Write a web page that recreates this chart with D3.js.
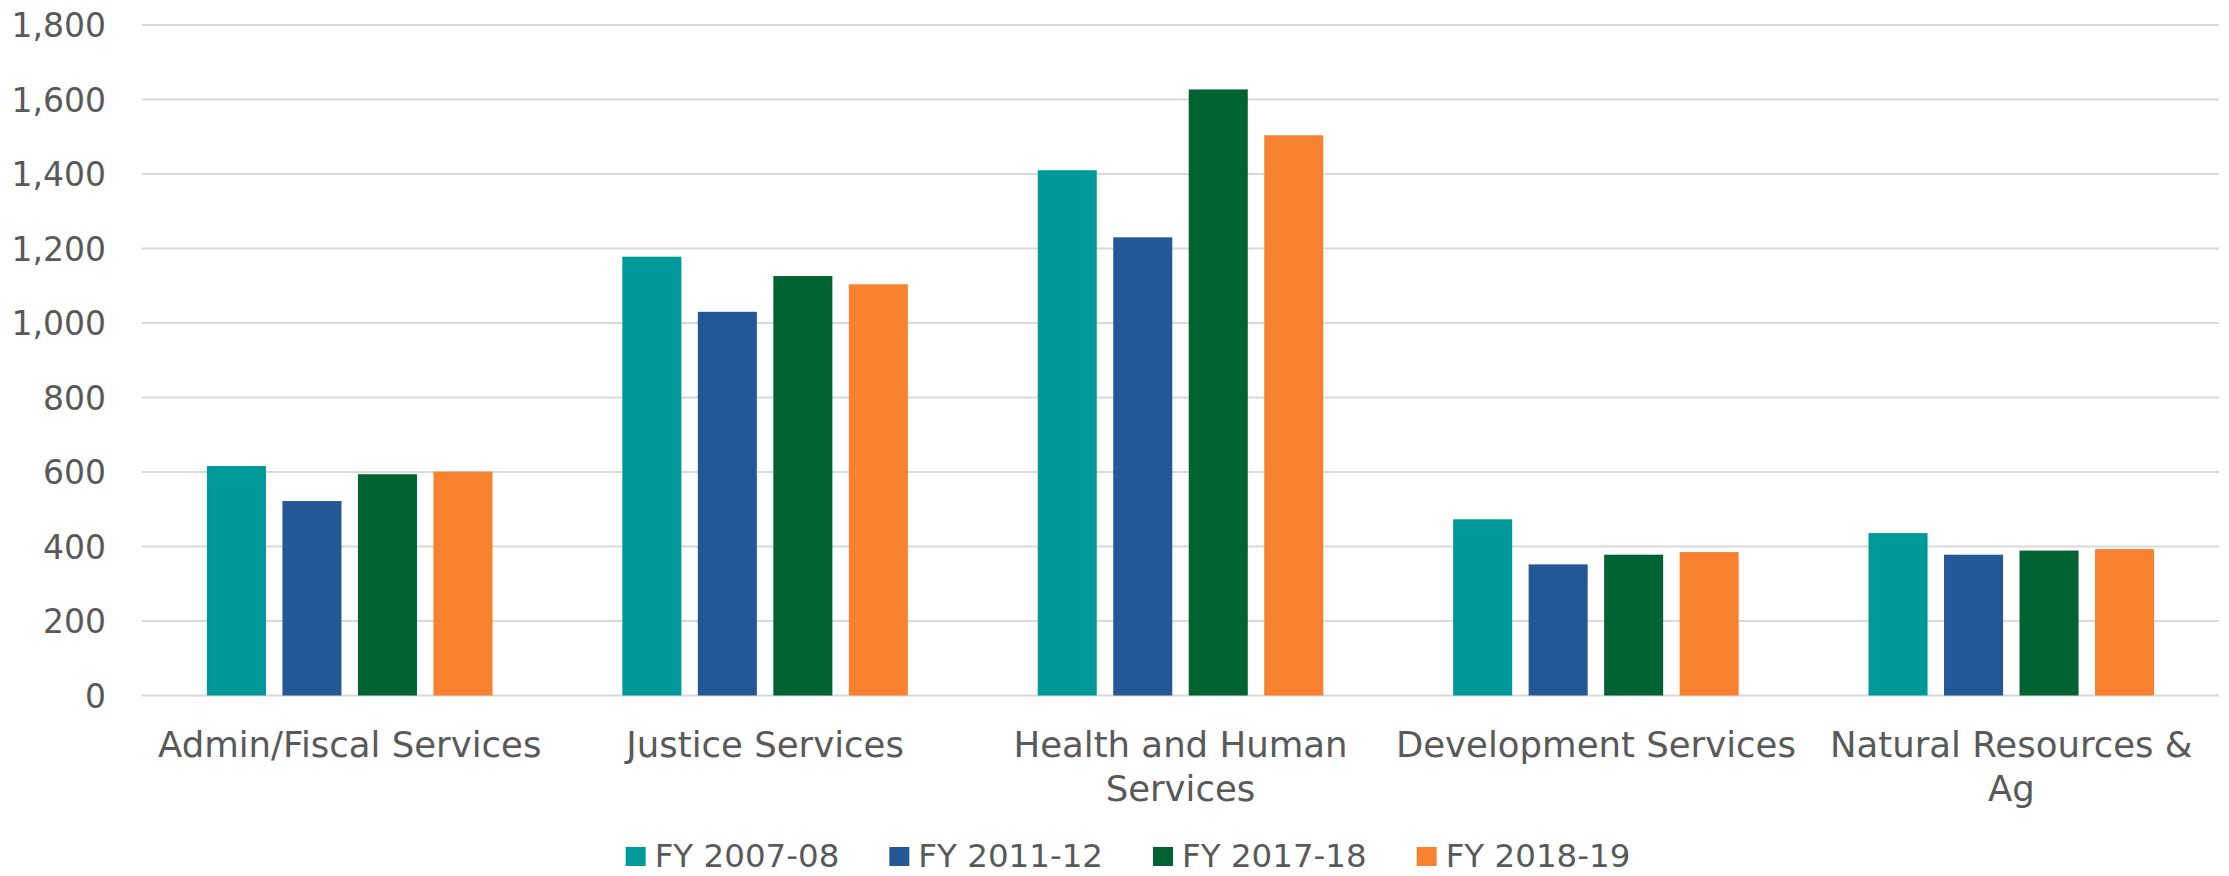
<!DOCTYPE html>
<html>
<head>
<meta charset="utf-8">
<script src="https://cdn.jsdelivr.net/npm/d3@7"></script>
<style>
  html, body { margin: 0; padding: 0; background: #fff; }
  svg { display: block; }
  text { font-family: "DejaVu Sans", sans-serif; fill: #595959; }
</style>
</head>
<body>
<svg id="chart" width="2229" height="876"></svg>
<script>
// Staffing by service area and fiscal year
const categories = [
  "Admin/Fiscal Services",
  "Justice Services",
  "Health and Human Services",
  "Development Services",
  "Natural Resources & Ag"
];
const seriesNames = ["FY 2007-08", "FY 2011-12", "FY 2017-18", "FY 2018-19"];
const fy0708 = [616, 1178, 1410, 473, 436];
const fy1112 = [522, 1030, 1230, 352, 378];
const fy1718 = [594, 1126, 1627, 378, 389];
const fy1819 = [601, 1104, 1504, 385, 393];
const yTicks = [0, 200, 400, 600, 800, 1000, 1200, 1400, 1600, 1800];
const colors = ["#009999", "#235795", "#006331", "#F8812F"];

const seriesValues = [fy0708, fy1112, fy1718, fy1819];

const svg = d3.select("#chart");
const plot = { left: 142, right: 2219, top: 25, bottom: 695.5 };

const y = d3.scaleLinear().domain([0, 1800]).range([plot.bottom, plot.top]);
const x0 = d3.scaleBand().domain(categories).range([plot.left, plot.right])
  .paddingInner(0).paddingOuter(0);
const x1 = d3.scaleBand().domain(seriesNames).range([0, x0.bandwidth()])
  .paddingInner(0.218).paddingOuter(0.86);
const color = d3.scaleOrdinal().domain(seriesNames).range(colors);

// Gridlines
svg.append("g")
  .selectAll("line")
  .data(yTicks)
  .join("line")
  .attr("x1", plot.left)
  .attr("x2", plot.right)
  .attr("y1", d => y(d))
  .attr("y2", d => y(d))
  .attr("stroke", "#d9d9d9")
  .attr("stroke-width", 2);

// Y axis labels
const yAxis = d3.axisLeft(y).tickValues(yTicks).tickSize(0).tickPadding(0)
  .tickFormat(d3.format(","));
const yg = svg.append("g").attr("transform", "translate(106,0)").call(yAxis);
yg.select(".domain").remove();
yg.selectAll("text")
  .attr("font-size", 33)
  .attr("font-family", "DejaVu Sans, sans-serif")
  .attr("fill", "#595959")
  .attr("dy", "0.36em");

// Bars
const groups = svg.append("g")
  .selectAll("g")
  .data(categories)
  .join("g")
  .attr("transform", d => `translate(${x0(d)},0)`);

groups.selectAll("rect")
  .data((c, i) => seriesNames.map((s, j) => ({ series: s, value: seriesValues[j][i] })))
  .join("rect")
  .attr("x", d => x1(d.series))
  .attr("width", x1.bandwidth())
  .attr("y", d => y(d.value))
  .attr("height", d => y(0) - y(d.value))
  .attr("fill", d => color(d.series));

// Category labels, wrapped to the band width
const maxW = 405;
const labels = svg.append("g")
  .selectAll("text")
  .data(categories)
  .join("text")
  .attr("x", d => x0(d) + x0.bandwidth() / 2)
  .attr("y", 757)
  .attr("text-anchor", "middle")
  .attr("font-size", 35.5);

labels.each(function(d) {
  const t = d3.select(this);
  const words = d.split(" ");
  let line = [];
  let tspan = t.append("tspan").attr("x", t.attr("x")).attr("dy", 0);
  words.forEach(w => {
    line.push(w);
    tspan.text(line.join(" "));
    if (tspan.node().getComputedTextLength() > maxW && line.length > 1) {
      line.pop();
      tspan.text(line.join(" "));
      line = [w];
      tspan = t.append("tspan").attr("x", t.attr("x")).attr("dy", 44).text(w);
    }
  });
});

// Legend
const legend = svg.append("g");
const items = legend.selectAll("g")
  .data(seriesNames)
  .join("g");
items.append("rect")
  .attr("width", 20)
  .attr("height", 19)
  .attr("y", 847)
  .attr("fill", d => color(d));
items.append("text")
  .attr("x", 29)
  .attr("y", 867)
  .attr("font-size", 32.5)
  .text(d => d);

let cursor = 0;
const gap = 50;
items.each(function() {
  const g = d3.select(this);
  g.attr("transform", `translate(${cursor},0)`);
  cursor += 29 + g.select("text").node().getComputedTextLength() + gap;
});
const legendWidth = cursor - gap;
legend.attr("transform", `translate(${1128 - legendWidth / 2},0)`);
</script>
</body>
</html>
